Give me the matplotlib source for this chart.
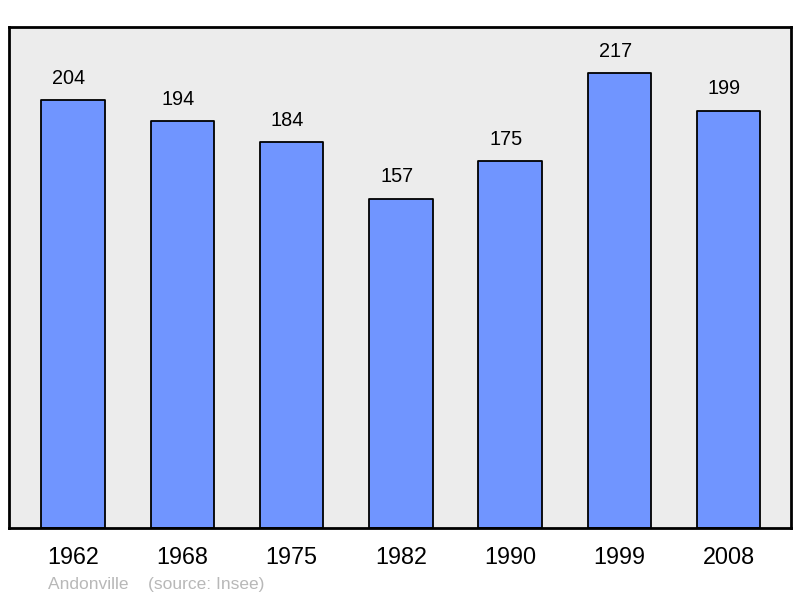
import matplotlib.pyplot as plt

plt.rcParams['font.family'] = ['Liberation Sans', 'DejaVu Sans']

years = ['1962', '1968', '1975', '1982', '1990', '1999', '2008']
population = [204, 194, 184, 157, 175, 217, 199]
commune = 'Andonville'
source = '(source: Insee)'

fig = plt.figure(figsize=(8, 5.98), dpi=100)
ax = fig.add_axes([9 / 800, 70 / 598, 782 / 800, 501 / 598])
ax.set_facecolor('#ececec')

x = range(len(years))
bars = ax.bar(x, population, width=0.58, color='#7095ff', edgecolor='black',
              linewidth=1.3, zorder=2)
for b in bars:
    b.set_joinstyle('round')

# value labels sit a bit left of bar centre, like the original
for xi, v in zip(x, population):
    ax.annotate(str(v), (xi, v), xytext=(-3, 9), textcoords='offset points',
                ha='center', va='bottom', fontsize=14.3)

ax.set_xlim(-0.586, 6.57)
ax.set_ylim(0, 239)
ax.set_yticks([])
ax.set_xticks(list(x), years, fontsize=16.8)
ax.tick_params(axis='x', length=0, pad=13)
for s in ax.spines.values():
    s.set_linewidth(2)
    s.set_joinstyle('round')

fig.text(48 / 800, 1 - 585 / 598, commune + '    ' + source, color='#b8b8b8',
         fontsize=12.5, va='center', ha='left')

fig.savefig('out.png', dpi=100)
